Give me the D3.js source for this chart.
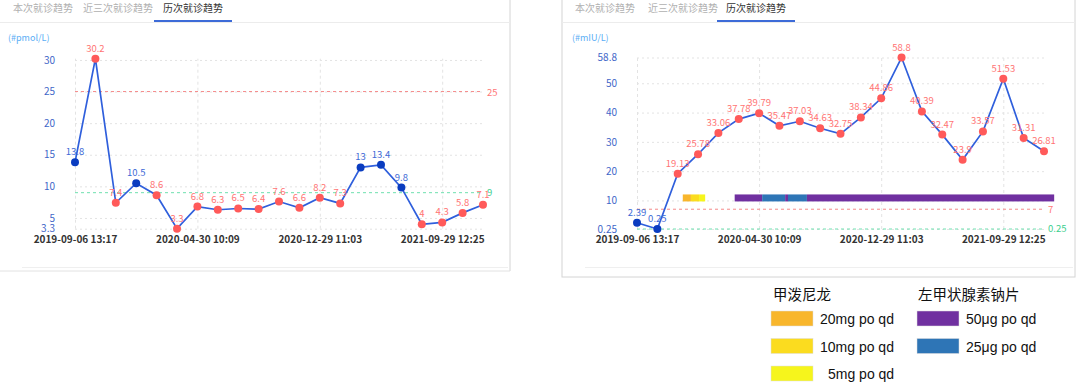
<!DOCTYPE html>
<html>
<head>
<meta charset="utf-8">
<script src="https://cdn.jsdelivr.net/npm/d3@7"></script>
<style>
  body { margin: 0; background: #fff; }
  svg { display: block; font-family: "Noto Sans CJK SC", "Noto Sans", sans-serif; }
</style>
</head>
<body>
<div id="chart"></div>
<script>
// tabs shown above both panels
var tabs = ["本次就诊趋势", "近三次就诊趋势", "历次就诊趋势"];

// x axis labels (visit index -> date)
var tickVisits = [0, 6, 12, 18];
var tickDates = ["2019-09-06 13:17", "2020-04-30 10:09", "2020-12-29 11:03", "2021-09-29 12:25"];

// left panel: pmol/L
var ftUnit = "(#pmol/L)";
var ftValues = [13.8, 30.2, 7.4, 10.5, 8.6, 3.3, 6.8, 6.3, 6.5, 6.4, 7.6, 6.6, 8.2, 7.3, 13, 13.4, 9.8, 4, 4.3, 5.8, 7.1];
var ftTicks = [3.3, 5, 10, 15, 20, 25, 30];
var ftUpper = 25, ftLower = 9;

// right panel: mIU/L
var tshUnit = "(#mIU/L)";
var tshValues = [2.39, 0.25, 19.13, 25.78, 33.06, 37.78, 39.79, 35.47, 37.03, 34.63, 32.75, 38.34, 44.86, 58.8, 40.39, 32.47, 23.9, 33.57, 51.53, 31.31, 26.81];
var tshTicks = [0.25, 10, 20, 30, 40, 50, 58.8];
var tshUpper = 7, tshLower = 0.25;

// medication periods (in visit index units)
var medStart = [2.25, 2.65, 3.05, 4.8, 6.15, 7.28, 7.42, 8.35];
var medEnd = [2.65, 3.05, 3.35, 6.15, 7.28, 7.42, 8.35, 20.5];
var medDose = ["20mg po qd", "10mg po qd", "5mg po qd", "50μg po qd", "25μg po qd", "50μg po qd", "25μg po qd", "50μg po qd"];

// legend
var drugNames = ["甲泼尼龙", "左甲状腺素钠片"];
var drug1Doses = ["20mg po qd", "10mg po qd", "5mg po qd"];
var drug2Doses = ["50μg po qd", "25μg po qd"];

var doseColor = {
  "20mg po qd": "#f8b62c",
  "10mg po qd": "#fbdc1f",
  "5mg po qd": "#f6f51c",
  "50μg po qd": "#7030a0",
  "25μg po qd": "#2e75b6"
};

var svg = d3.select("#chart").append("svg")
  .attr("width", 1080)
  .attr("height", 391);

function drawPanel(p) {
  var g = svg.append("g");

  // panel frame
  if (p.frameLeft) {
    g.append("rect")
      .attr("x", p.frameX0).attr("y", -2)
      .attr("width", p.frameX1 - p.frameX0).attr("height", p.frameY1 + 2)
      .attr("fill", "none").attr("stroke", "#d4d4d4");
  } else {
    g.append("line")
      .attr("x1", p.frameX1).attr("x2", p.frameX1)
      .attr("y1", 0).attr("y2", p.frameY1)
      .attr("stroke", "#d4d4d4");
    g.append("line")
      .attr("x1", p.frameX0).attr("x2", p.frameX1)
      .attr("y1", p.frameY1).attr("y2", p.frameY1)
      .attr("stroke", "#e2e2e2");
  }
  // tab divider and inner bottom line
  g.append("line")
    .attr("x1", p.frameX0).attr("x2", p.frameX1)
    .attr("y1", 22.5).attr("y2", 22.5)
    .attr("stroke", "#ececec");
  g.append("line")
    .attr("x1", p.innerX0).attr("x2", p.frameX1 - 2)
    .attr("y1", 267.5).attr("y2", 267.5)
    .attr("stroke", "#efefef");

  // tabs
  g.selectAll(".tab")
    .data(tabs)
    .enter()
    .append("text")
    .attr("x", function (d, i) { return p.tabX[i] })
    .attr("y", 12)
    .attr("font-size", 10)
    .attr("fill", function (d, i) { return i == 2 ? "#333" : "#b0b0b0" })
    .text(function (d) { return d });
  g.append("line")
    .attr("x1", p.tabX[2] - 9).attr("x2", p.tabX[2] + 69)
    .attr("y1", 21).attr("y2", 21)
    .attr("stroke", "#3d6bd8").attr("stroke-width", 2);

  // scales
  var x = d3.scaleLinear().domain([0, p.values.length - 1]).range([p.x0, p.x1]);
  var y = d3.scaleLinear().domain([d3.min(p.ticks), d3.max(p.values)]).range([p.yBottom, p.yTop]);

  // unit
  g.append("text")
    .attr("x", p.unitX).attr("y", 41)
    .attr("font-size", 9)
    .attr("fill", "#5aaef5")
    .text(p.unit);

  // y axis with grid
  var yAxis = g.append("g")
    .attr("transform", "translate(" + p.x0 + ",0)")
    .call(d3.axisLeft(y).tickValues(p.ticks).tickSize(-(p.x1 - p.x0)).tickPadding(20).tickFormat(function (d) { return d }));
  yAxis.select(".domain").remove();
  yAxis.selectAll(".tick line")
    .attr("stroke", "#e3e3e3")
    .attr("stroke-dasharray", "2,3");
  yAxis.selectAll(".tick text")
    .attr("fill", "#3f66c8")
    .attr("font-size", 10)
    .attr("font-family", "Noto Sans CJK SC");

  // x axis with vertical grid
  var xAxis = g.append("g")
    .attr("transform", "translate(0," + p.yBottom + ")")
    .call(d3.axisBottom(x).tickValues(tickVisits).tickSize(-(p.yBottom - p.yTop)).tickPadding(7)
      .tickFormat(function (d, i) { return tickDates[i] }));
  xAxis.select(".domain").remove();
  xAxis.selectAll(".tick line")
    .attr("stroke", "#e3e3e3")
    .attr("stroke-dasharray", "3,3");
  xAxis.selectAll(".tick text")
    .attr("fill", "#333")
    .attr("font-size", 10)
    .attr("font-weight", "bold")
    .attr("font-family", "Noto Sans CJK SC");

  // reference lines
  g.append("line")
    .attr("x1", p.x0).attr("x2", p.x1)
    .attr("y1", y(p.upper)).attr("y2", y(p.upper))
    .attr("stroke", "#f58a8a").attr("stroke-dasharray", "3,3");
  g.append("text")
    .attr("x", p.x1 + 4).attr("y", y(p.upper) + 4)
    .attr("font-size", 9.5).attr("fill", "#f77")
    .text(p.upper);
  g.append("line")
    .attr("x1", p.x0).attr("x2", p.x1)
    .attr("y1", y(p.lower)).attr("y2", y(p.lower))
    .attr("stroke", "#6fe0b0").attr("stroke-dasharray", "3,3");
  g.append("text")
    .attr("x", p.x1 + 4).attr("y", y(p.lower) + 3)
    .attr("font-size", 9.5).attr("fill", "#3ccf8e")
    .text(p.lower);

  // medication bars
  if (p.meds) {
    g.selectAll(".med")
      .data(medStart)
      .enter()
      .append("rect")
      .attr("x", function (d) { return x(d) })
      .attr("width", function (d, i) { return x(medEnd[i]) - x(d) })
      .attr("y", y(10) - 6)
      .attr("height", 7)
      .attr("fill", function (d, i) { return doseColor[medDose[i]] });
  }

  // line
  g.append("path")
    .datum(p.values)
    .attr("fill", "none")
    .attr("stroke", "#2f5fdc")
    .attr("stroke-width", 1.7)
    .attr("d", d3.line().x(function (d, i) { return x(i) }).y(function (d) { return y(d) }));

  function inRange(d) { return d >= p.lower && d <= p.upper }

  // dots
  g.selectAll(".dot")
    .data(p.values)
    .enter()
    .append("circle")
    .attr("cx", function (d, i) { return x(i) })
    .attr("cy", function (d) { return y(d) })
    .attr("r", 4)
    .attr("fill", function (d) { return inRange(d) ? "#0a3cc0" : "#ff5a5a" });

  // value labels
  g.selectAll(".lbl")
    .data(p.values)
    .enter()
    .append("text")
    .attr("x", function (d, i) { return x(i) })
    .attr("y", function (d) { return y(d) - 7 })
    .attr("text-anchor", "middle")
    .attr("font-size", 9.5)
    .attr("fill", function (d) { return inRange(d) ? "#3d6ad6" : "#ff7474" })
    .text(function (d) { return d });
}

drawPanel({
  frameLeft: false, frameX0: 0, frameX1: 510, frameY1: 271, innerX0: 22,
  tabX: [13, 83, 163], unitX: 8,
  values: ftValues, ticks: ftTicks, unit: ftUnit, upper: ftUpper, lower: ftLower,
  x0: 75, x1: 483, yTop: 58.7, yBottom: 228.7, meds: false
});

drawPanel({
  frameLeft: true, frameX0: 562, frameX1: 1075, frameY1: 277, innerX0: 585,
  tabX: [575, 648, 726], unitX: 572,
  values: tshValues, ticks: tshTicks, unit: tshUnit, upper: tshUpper, lower: tshLower,
  x0: 637, x1: 1044, yTop: 57.5, yBottom: 229, meds: true
});

// legend
var leg = svg.append("g").attr("font-family", "'Liberation Sans', Arial, sans-serif");
leg.selectAll(".dname")
  .data(drugNames)
  .enter()
  .append("text")
  .attr("x", function (d, i) { return i == 0 ? 773 : 918 })
  .attr("y", 300)
  .attr("font-size", 14.5)
  .attr("font-family", "Noto Sans CJK SC")
  .attr("fill", "#111")
  .text(function (d) { return d });

function legendColumn(doses, sx, tx) {
  leg.selectAll(null)
    .data(doses)
    .enter()
    .append("rect")
    .attr("x", sx).attr("y", function (d, i) { return 311 + i * 27.5 })
    .attr("width", 42).attr("height", 15)
    .attr("fill", function (d) { return doseColor[d] })
    .attr("stroke", "#ddd").attr("stroke-width", 0.5);
  leg.selectAll(null)
    .data(doses)
    .enter()
    .append("text")
    .attr("x", function (d) { return tx + (d.length < 10 ? 8 : 0) })
    .attr("y", function (d, i) { return 324 + i * 27.5 })
    .attr("font-size", 14)
    .attr("fill", "#111")
    .text(function (d) { return d });
}
legendColumn(drug1Doses, 771, 820);
legendColumn(drug2Doses, 917, 966);
</script>
</body>
</html>
